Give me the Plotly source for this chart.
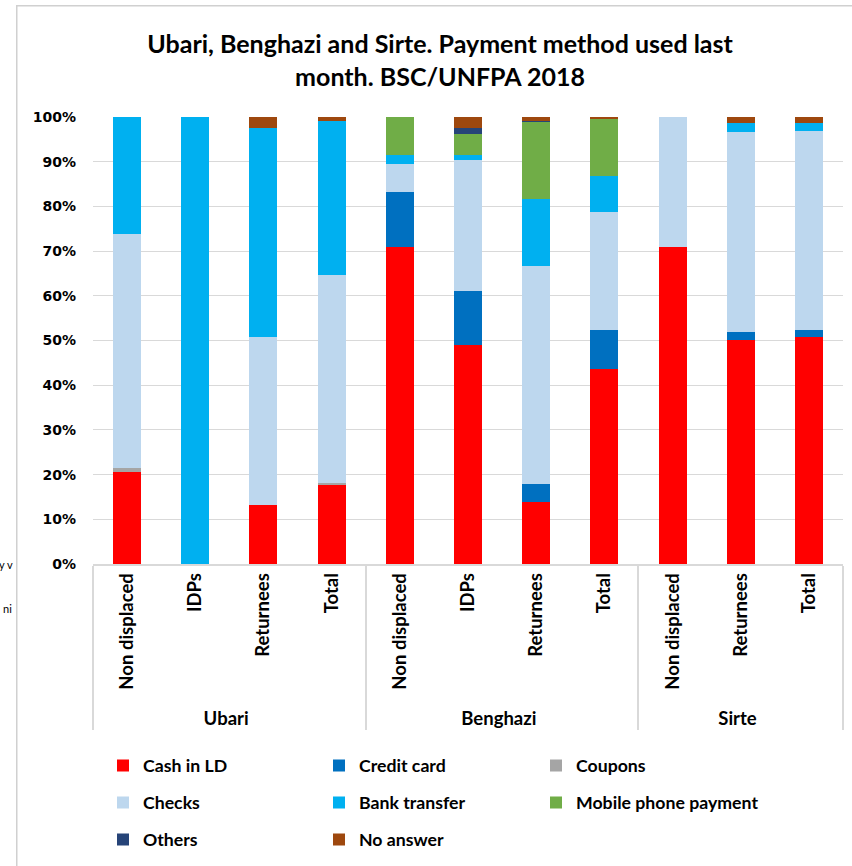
import plotly.graph_objects as go

# ---- data (percent) ----
groups = ["Ubari"] * 4 + ["Benghazi"] * 4 + ["Sirte"] * 3
subcats = ["Non displaced", "IDPs", "Returnees", "Total",
           "Non displaced", "IDPs", "Returnees", "Total",
           "Non displaced", "Returnees", "Total"]

cash_ld = [20.5, 0, 13.2, 17.7, 70.9, 49.1, 13.8, 43.7, 70.9, 50.2, 50.8]
credit_card = [0, 0, 0, 0, 12.3, 11.9, 4.1, 8.6, 0, 1.6, 1.5]
coupons = [1.0, 0, 0, 0.4, 0, 0, 0, 0, 0, 0, 0]
checks = [52.4, 0, 37.6, 46.6, 6.3, 29.4, 48.7, 26.4, 29.1, 44.8, 44.5]
bank_transfer = [26.1, 100, 46.7, 34.3, 1.9, 1.2, 15.0, 8.2, 0, 2.1, 1.9]
mobile_phone = [0, 0, 0, 0, 8.6, 4.7, 17.4, 12.6, 0, 0, 0]
others = [0, 0, 0, 0, 0, 1.2, 0.2, 0, 0, 0, 0]
no_answer = [0, 0, 2.5, 1.0, 0, 2.5, 0.8, 0.5, 0, 1.3, 1.3]

series_names = ["Cash in LD", "Credit card", "Coupons", "Checks",
                "Bank transfer", "Mobile phone payment", "Others", "No answer"]
series_values = [cash_ld, credit_card, coupons, checks,
                 bank_transfer, mobile_phone, others, no_answer]
series_colors = ["#FF0000", "#0070C0", "#A5A5A5", "#BDD7EE",
                 "#00B0F0", "#70AD47", "#264478", "#9E480E"]

W, H = 852, 866
ML, MR, MT, MB = 93, 9, 117, 866 - 565
PW, PH = W - ML - MR, H - MT - MB


def px_x(x):
    """window pixel x -> paper x"""
    return (x - ML) / PW


def px_y(y):
    """window pixel y -> paper y"""
    return (H - MB - y) / PH


FONT = "Lato, 'Open Sans', sans-serif"
tick_font = dict(family=FONT, size=18.5, color="#000000", weight="bold")
legend_font = dict(family=FONT, size=17.7, color="#000000", weight="bold")

# legend grid: text start x of each column, centre y of each row (window px)
col_text_x = [143, 359, 576]
row_y = [766, 803, 840]

fig = go.Figure()
legend_layouts = {}
for i, (name, vals, col) in enumerate(zip(series_names, series_values, series_colors)):
    lid = "legend" if i == 0 else f"legend{i + 1}"
    fig.add_trace(go.Bar(
        x=[groups, subcats],
        y=[v / 100 for v in vals],
        name=name,
        marker=dict(color=col, line=dict(width=0)),
        legend=lid,
        showlegend=True,
    ))
    r, c = divmod(i, 3)
    legend_layouts[lid] = dict(
        orientation="h",
        font=legend_font,
        x=px_x(col_text_x[c] - 40), xanchor="left",
        y=px_y(row_y[r]), yanchor="middle",
        bgcolor="rgba(0,0,0,0)",
        itemclick=False,
        itemdoubleclick=False,
    )

fig.update_layout(
    width=W, height=H,
    margin=dict(l=ML, r=MR, t=MT, b=MB),
    paper_bgcolor="white",
    plot_bgcolor="white",
    showlegend=True,
    barmode="stack",
    bargap=0.59,
    title=dict(
        text="Ubari, Benghazi and Sirte. Payment method used last<br>month. BSC/UNFPA 2018",
        font=dict(family=FONT, size=25, color="#000000", weight="bold"),
        x=px_x(440), xref="paper", xanchor="center",
        y=1 - 53 / H, yref="container", yanchor="middle",
    ),
    xaxis=dict(
        type="multicategory",
        tickangle=-90,
        tickfont=tick_font,
        showline=True,
        linecolor="#D9D9D9",
        linewidth=1.5,
        showdividers=True,
        dividercolor="#D9D9D9",
        dividerwidth=1.5,
        ticks="",
        showgrid=False,
    ),
    yaxis=dict(
        range=[0, 1],
        tickformat=".0%",
        dtick=0.1,
        tickfont=dict(family="DejaVu Sans, Verdana, sans-serif", size=14,
                      color="#000000", weight="bold"),
        showgrid=True,
        gridcolor="#D9D9D9",
        gridwidth=1,
        zeroline=False,
        showline=False,
        ticks="",
        ticklabelstandoff=16,
    ),
    annotations=[
        # chart frame box (only its left and top edges fall inside the window)
        dict(text=" ", xref="paper", yref="paper", x=px_x(16), y=px_y(5),
             xanchor="left", yanchor="top", showarrow=False,
             width=900, height=900, borderpad=0,
             bordercolor="#D0D0D0", borderwidth=1.5, bgcolor="rgba(0,0,0,0)"),
        dict(text="y v", xref="paper", yref="paper", x=px_x(15), y=px_y(566),
             xanchor="right", yanchor="middle", showarrow=False,
             font=dict(family=FONT, size=11, color="#000000")),
        dict(text="ni", xref="paper", yref="paper", x=px_x(14), y=px_y(610),
             xanchor="right", yanchor="middle", showarrow=False,
             font=dict(family=FONT, size=11, color="#000000")),
    ],
    **legend_layouts,
)

# remove the default 8px page margin so the figure fills the window exactly
fig.write_html("out.html", config={"displayModeBar": False},
               post_script="document.body.style.margin='0px';")
